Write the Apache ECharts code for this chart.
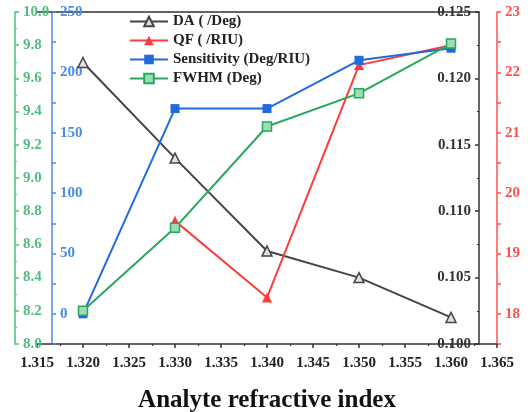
<!DOCTYPE html>
<html>
<head>
<meta charset="utf-8">
<script src="https://cdn.jsdelivr.net/npm/echarts@6/dist/echarts.min.js"></script>
<style>
  html, body { margin: 0; padding: 0; background: #fff; }
  #chart { width: 528px; height: 412px; }
</style>
</head>
<body>
<div id="chart"></div>
<script>
// refractive index of analyte
var xValues = [1.320, 1.330, 1.340, 1.350, 1.360];
var daValues = [0.1212, 0.1140, 0.1070, 0.1050, 0.1020];
var qfValues = [null, 19.54, 18.27, 22.12, 22.45];
var sensValues = [0, 170, 170, 210, 220];
var fwhmValues = [8.20, 8.70, 9.31, 9.51, 9.81];
var seriesNames = ['DA ( /Deg)', 'QF ( /RIU)', 'Sensitivity (Deg/RIU)', 'FWHM (Deg)'];

function pairs(vals) {
    return xValues.map(function (x, i) { return [x, vals[i]]; });
}

var font = "'Liberation Serif', 'Times New Roman', serif";
var green = '#52bd80', blue = '#4a8ce8', red = '#ff5050', dark = '#333';

var chartDom = document.getElementById('chart');
var myChart = echarts.init(chartDom);

function yAxisBase(color, pos, offset) {
    return {
        type: 'value',
        position: pos,
        offset: offset,
        splitLine: { show: false },
        axisLine: { show: true, onZero: false, lineStyle: { color: color, width: 1.5 } },
        axisTick: { show: true, inside: true, length: 4, lineStyle: { color: color, width: 1.5 } },
        minorTick: { show: true, splitNumber: 2, length: 2, lineStyle: { color: color, width: 1.2 } },
        axisLabel: {
            inside: true, margin: 8, color: color,
            fontFamily: font, fontWeight: 'bold', fontSize: 15
        }
    };
}

var yGreen = yAxisBase(green, 'left', 22);
yGreen.min = 8; yGreen.max = 10; yGreen.interval = 0.2;
yGreen.axisLabel.formatter = function (v) { return v.toFixed(1); };

var yBlue = yAxisBase(blue, 'left', -15);
yBlue.min = -25; yBlue.max = 250; yBlue.interval = 25;
yBlue.minorTick.show = false;
yBlue.axisLabel.formatter = function (v) { return (v >= 0 && v % 50 === 0) ? String(v) : ''; };

var yBlack = yAxisBase(dark, 'right', -18);
yBlack.min = 0.1; yBlack.max = 0.125; yBlack.interval = 0.005;
yBlack.axisLabel.formatter = function (v) { return v.toFixed(3); };

var yRed = yAxisBase(red, 'right', 0);
yRed.min = 17.5; yRed.max = 23; yRed.interval = 0.5;
yRed.minorTick.show = false;
yRed.axisTick.inside = false;
yRed.axisLabel.inside = false;
yRed.axisLabel.formatter = function (v) { return v % 1 === 0 ? String(v) : ''; };

var option = {
    animation: false,
    grid: [
        { left: 37, right: 31, top: 12, bottom: 68, outerBoundsMode: 'none' },
        { left: 37, right: 49, top: 12, bottom: 68, outerBoundsMode: 'none' }
    ],
    legend: {
        orient: 'vertical',
        left: 124, top: 9,
        itemWidth: 38, itemHeight: 12, itemGap: 4,
        data: seriesNames,
        textStyle: { fontFamily: font, fontWeight: 'bold', fontSize: 15, color: '#222' }
    },
    xAxis: [{
        type: 'value',
        gridIndex: 0,
        min: 1.315, max: 1.365, interval: 0.005,
        name: 'Analyte refractive index',
        nameLocation: 'middle',
        nameGap: 44,
        nameTextStyle: { fontFamily: font, fontWeight: 'bold', fontSize: 25, color: '#111' },
        splitLine: { show: false },
        axisLine: { onZero: false, lineStyle: { color: dark, width: 1.5 } },
        axisTick: { length: 4, lineStyle: { color: dark, width: 1.5 } },
        minorTick: { show: true, splitNumber: 2, length: 2, lineStyle: { color: dark, width: 1.2 } },
        axisLabel: {
            margin: 12, color: '#222', fontFamily: font, fontWeight: 'bold', fontSize: 15,
            formatter: function (v) { return v.toFixed(3); }
        }
    }, {
        type: 'value',
        gridIndex: 1,
        position: 'top',
        min: 0, max: 1,
        splitLine: { show: false },
        axisLine: { onZero: false, lineStyle: { color: dark, width: 1.5 } },
        axisTick: { show: false },
        axisLabel: { show: false }
    }],
    yAxis: [yGreen, yBlue, yBlack, yRed,
        { type: 'value', gridIndex: 1, show: false }],
    series: [
        {
            name: seriesNames[0], type: 'line', yAxisIndex: 2,
            data: pairs(daValues),
            symbol: 'triangle', symbolSize: 10,
            lineStyle: { color: '#444', width: 2 },
            itemStyle: { color: '#e0e0e0', borderColor: '#444', borderWidth: 1.5 }
        },
        {
            name: seriesNames[1], type: 'line', yAxisIndex: 3,
            data: pairs(qfValues),
            symbol: 'triangle', symbolSize: 10,
            lineStyle: { color: '#ff3b3b', width: 2 },
            itemStyle: { color: '#ff3b3b' }
        },
        {
            name: seriesNames[2], type: 'line', yAxisIndex: 1,
            data: pairs(sensValues),
            symbol: 'rect', symbolSize: 9,
            lineStyle: { color: '#1f6be0', width: 2 },
            itemStyle: { color: '#1f6be0' }
        },
        {
            name: seriesNames[3], type: 'line', yAxisIndex: 0,
            data: pairs(fwhmValues),
            symbol: 'rect', symbolSize: 9,
            lineStyle: { color: '#27a85c', width: 2 },
            itemStyle: { color: '#9edcb5', borderColor: '#27a85c', borderWidth: 1.5 }
        }
    ]
};

myChart.setOption(option);
</script>
</body>
</html>
